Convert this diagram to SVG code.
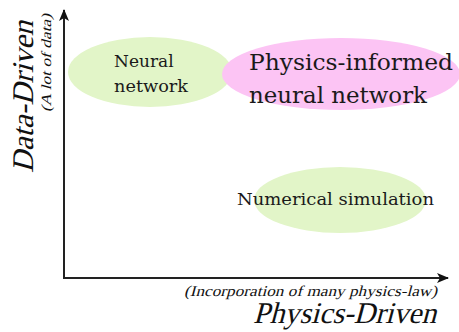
<svg xmlns="http://www.w3.org/2000/svg" width="459" height="332" viewBox="0 0 459 332">
<style>
.node{font-family:"DejaVu Serif","Liberation Serif",serif;fill:#1a1a1a}
.ax{font-family:"Liberation Serif","Times New Roman",serif;fill:#111}
.green{fill:#e2f5c8}
.pink{fill:#fcc4f4}
.axis{stroke:#222;stroke-width:2;fill:none}
</style>
<defs>
<marker id="ah" viewBox="0 0 12 10" refX="11" refY="5" markerWidth="12" markerHeight="10" markerUnits="userSpaceOnUse" orient="auto">
<path d="M0,0 L12,5 L0,10 L3,5 Z" fill="#111"/>
</marker>
</defs>
<g id="neural-network">
<ellipse class="green" cx="150" cy="72" rx="82" ry="35"/>
<text class="node" x="114" y="67" font-size="17">Neural</text>
<text class="node" x="114" y="92" font-size="17" textLength="74" lengthAdjust="spacingAndGlyphs">network</text>
</g>
<g id="pinn">
<ellipse class="pink" cx="341" cy="74" rx="119" ry="36"/>
<text class="node" x="249" y="70" font-size="22" textLength="204" lengthAdjust="spacingAndGlyphs">Physics-informed</text>
<text class="node" x="249" y="103" font-size="22" textLength="178" lengthAdjust="spacingAndGlyphs">neural network</text>
</g>
<g id="numerical-simulation">
<ellipse class="green" cx="340" cy="200" rx="86" ry="33"/>
<text class="node" x="237" y="205" font-size="17" textLength="197" lengthAdjust="spacingAndGlyphs">Numerical simulation</text>
</g>
<g id="connectors">
<path class="axis" d="M64,279 L64,10" marker-end="url(#ah)"/>
<path class="axis" d="M63,278 L448,278" marker-end="url(#ah)"/>
</g>
<g id="labels">
<text class="ax" transform="translate(33,173) rotate(-90) skewX(-15)" font-size="30" textLength="152" lengthAdjust="spacingAndGlyphs">Data-Driven</text>
<text class="ax" transform="translate(51,112) rotate(-90) skewX(-15)" font-size="14" textLength="98" lengthAdjust="spacingAndGlyphs">(A lot of data)</text>
<text class="ax" transform="translate(184,296) skewX(-15)" font-size="15" textLength="253" lengthAdjust="spacingAndGlyphs">(Incorporation of many physics-law)</text>
<text class="ax" transform="translate(253,323) skewX(-15)" font-size="30" textLength="183" lengthAdjust="spacingAndGlyphs">Physics-Driven</text>
</g>
</svg>
